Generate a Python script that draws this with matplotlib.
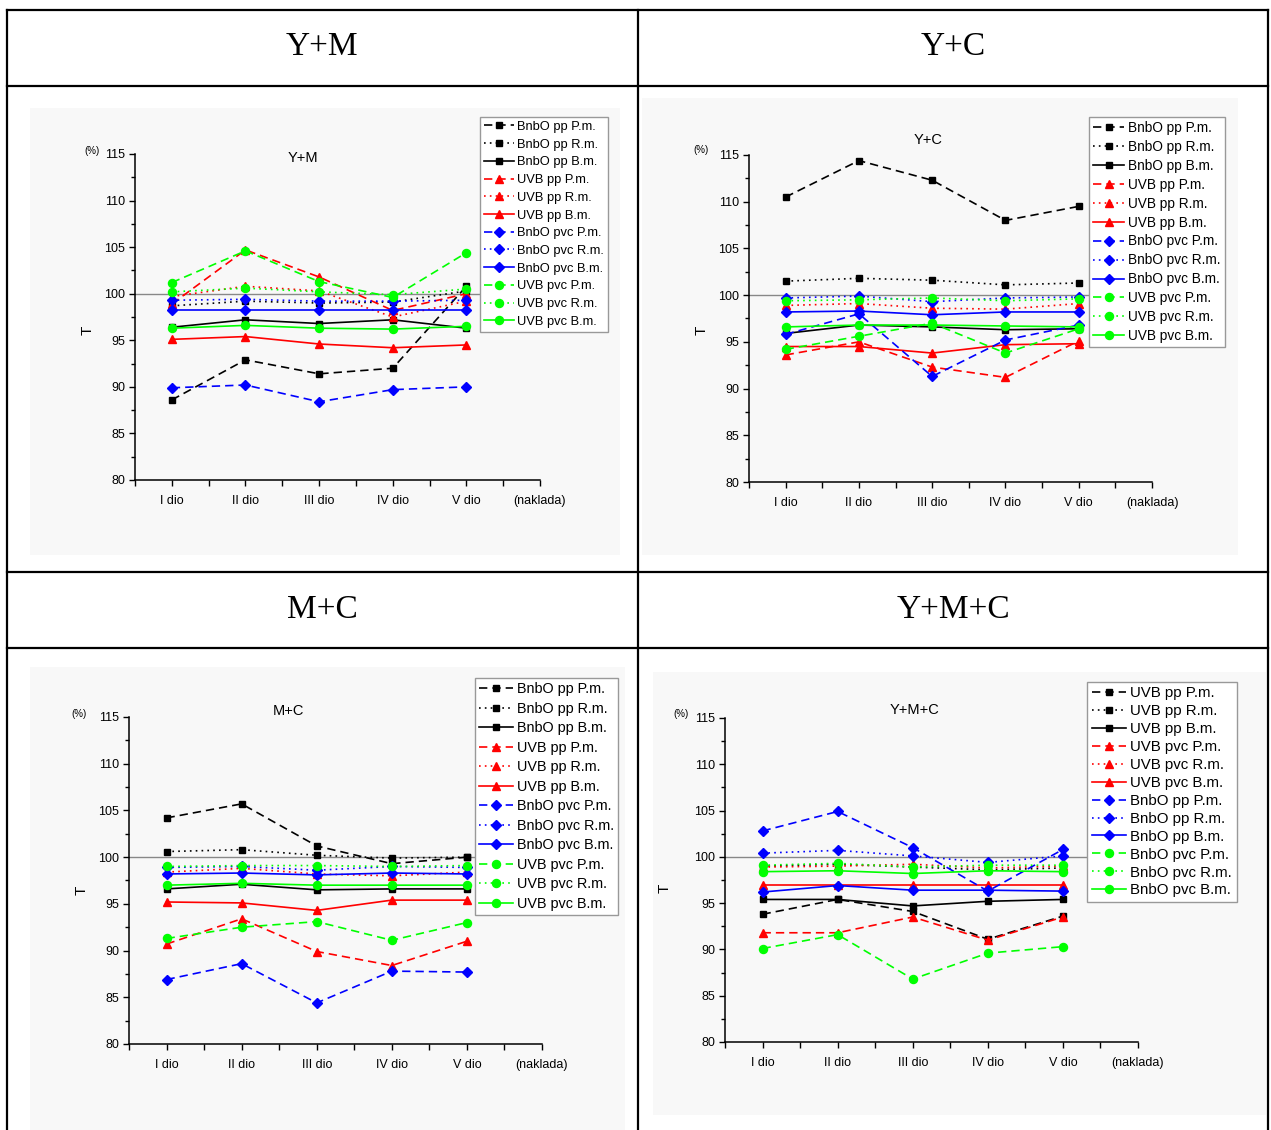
import numpy as np
import matplotlib.pyplot as plt
from matplotlib.lines import Line2D
from matplotlib.patches import Rectangle

# figure size in pixels (dpi 100)
W, H = 1271, 1130

parts = ['I dio', 'II dio', 'III dio', 'IV dio', 'V dio']
methods = ['P.m.', 'R.m.', 'B.m.']
groups_abc = ['BnbO pp', 'UVB pp', 'BnbO pvc', 'UVB pvc']
groups_d = ['UVB pp', 'UVB pvc', 'BnbO pp', 'BnbO pvc']

# T (%) per part, rows in legend order (group x method)
t_ym = [
    [88.6, 92.9, 91.4, 92.0, 100.8],
    [98.7, 99.2, 99.0, 99.1, 100.3],
    [96.4, 97.2, 96.8, 97.2, 96.3],
    [98.9, 104.7, 101.8, 98.2, 100.0],
    [99.7, 100.8, 100.3, 97.5, 99.2],
    [95.1, 95.4, 94.6, 94.2, 94.5],
    [89.9, 90.2, 88.4, 89.7, 90.0],
    [99.3, 99.4, 99.2, 99.2, 99.3],
    [98.3, 98.3, 98.3, 98.3, 98.3],
    [101.2, 104.6, 101.3, 99.6, 104.4],
    [100.2, 100.6, 100.2, 99.9, 100.5],
    [96.3, 96.6, 96.3, 96.2, 96.5],
]
t_yc = [
    [110.5, 114.4, 112.3, 108.0, 109.5],
    [101.5, 101.8, 101.6, 101.1, 101.3],
    [95.9, 96.8, 96.6, 96.3, 96.4],
    [93.6, 95.0, 92.3, 91.2, 95.1],
    [98.9, 99.1, 98.6, 98.5, 99.1],
    [94.5, 94.5, 93.8, 94.7, 94.8],
    [95.8, 98.0, 91.3, 95.2, 96.8],
    [99.7, 99.9, 99.3, 99.7, 99.8],
    [98.2, 98.3, 97.9, 98.2, 98.2],
    [94.2, 95.6, 97.0, 93.8, 96.4],
    [99.4, 99.5, 99.7, 99.4, 99.6],
    [96.6, 96.8, 96.8, 96.7, 96.6],
]
t_mc = [
    [104.2, 105.7, 101.2, 99.3, 100.0],
    [100.6, 100.8, 100.2, 99.9, 100.0],
    [96.6, 97.1, 96.5, 96.6, 96.6],
    [90.7, 93.4, 89.9, 88.4, 91.0],
    [98.4, 98.8, 98.2, 98.0, 98.4],
    [95.2, 95.1, 94.3, 95.4, 95.4],
    [86.9, 88.6, 84.4, 87.8, 87.7],
    [98.9, 99.0, 98.6, 99.0, 98.9],
    [98.2, 98.3, 98.1, 98.3, 98.2],
    [91.3, 92.5, 93.1, 91.1, 93.0],
    [99.0, 99.1, 99.1, 99.0, 99.1],
    [97.0, 97.2, 97.0, 97.0, 97.0],
]
t_ymc = [
    [93.8, 95.4, 94.1, 91.1, 93.6],
    [99.0, 99.2, 98.9, 98.6, 98.8],
    [95.4, 95.4, 94.7, 95.2, 95.4],
    [91.8, 91.8, 93.5, 91.0, 93.5],
    [98.9, 99.0, 99.2, 98.8, 99.0],
    [97.0, 97.0, 97.0, 97.0, 97.0],
    [102.8, 104.9, 101.0, 96.3, 100.8],
    [100.4, 100.7, 100.1, 99.4, 100.1],
    [96.2, 96.9, 96.4, 96.4, 96.3],
    [90.1, 91.6, 86.8, 89.6, 90.3],
    [99.1, 99.3, 98.9, 99.1, 99.1],
    [98.4, 98.5, 98.2, 98.5, 98.4],
]

colors = ['black', '#ff0000', '#0000ff', '#00ff00']
markers = ['s', '^', 'D', 'o']
msizes = [4.8, 5.8, 4.8, 5.8]
dashes = [(0, (5, 3)), (0, (1, 2.5)), '-']

plt.rcParams['font.family'] = ['Liberation Sans', 'DejaVu Sans']

fig = plt.figure(figsize=(W / 100, H / 100), dpi=100)


def fx(x):
    return x / W


def fy(y):
    return 1 - y / H


def draw_chart(box, panel, values, groups, title, title_xy, pct_xy, t_xy,
               leg_xy, leg_fs, leg_sp):
    # faint grey panel behind the plot, like the pasted picture
    px0, py0, px1, py1 = panel
    fig.add_artist(Rectangle((fx(px0), fy(py1)), fx(px1 - px0), (py1 - py0) / H,
                             facecolor='#f8f8f8', edgecolor='none', zorder=0))
    x0, y0, x1, y1 = box
    ax = fig.add_axes([fx(x0), fy(y1), fx(x1 - x0), (y1 - y0) / H])
    ax.patch.set_visible(False)
    xs = np.arange(1, len(parts) + 1)
    ax.axhline(100, color='#888888', lw=1.0, zorder=1)
    k = 0
    for gi, g in enumerate(groups):
        for mi, m in enumerate(methods):
            ax.plot(xs, values[k], color=colors[gi], ls=dashes[mi], lw=1.2,
                    marker=markers[gi], ms=msizes[gi], label=f'{g} {m}',
                    zorder=3)
            k += 1
    ax.set_xlim(0.5, 6)
    ax.set_ylim(80, 115)
    ax.set_xticks(list(xs) + [6])
    ax.set_xticklabels(parts + ['(naklada)'])
    ax.get_xticklabels()[-1].set_fontsize(7.5)
    ax.set_xticks(np.arange(0.5, 6.01, 0.5), minor=True)
    ax.set_yticks(np.arange(80, 116, 5))
    ax.set_yticks(np.arange(82.5, 115, 5), minor=True)
    ax.tick_params(which='both', direction='out', length=4, width=1,
                   labelsize=9, pad=3)
    ax.tick_params(axis='x', which='major', pad=7)
    ax.tick_params(axis='y', which='minor', length=3)
    for s in ['top', 'right']:
        ax.spines[s].set_visible(False)
    for s in ['left', 'bottom']:
        ax.spines[s].set_linewidth(1.1)
    fig.text(fx(title_xy[0]), fy(title_xy[1]), title, ha='center',
             va='center', fontsize=10.5)
    fig.text(fx(pct_xy[0]), fy(pct_xy[1]), '(%)', ha='center', va='center',
             fontsize=7)
    fig.text(fx(t_xy[0]), fy(t_xy[1]), 'T', ha='center', va='center',
             fontsize=11, rotation=90)
    leg = ax.legend(loc='upper left', bbox_to_anchor=(fx(leg_xy[0]), fy(leg_xy[1])),
                    bbox_transform=fig.transFigure, borderaxespad=0,
                    fontsize=leg_fs, handlelength=2.3, handletextpad=0.3,
                    labelspacing=leg_sp, borderpad=0.3, fancybox=False,
                    framealpha=1, edgecolor='#999999', facecolor='white')
    leg.get_frame().set_linewidth(1.0)
    leg.set_zorder(5)
    return ax


draw_chart((135, 154, 540, 480), (30, 108, 620, 555), t_ym, groups_abc, 'Y+M',
           (303, 158), (92, 151), (88, 330), (480, 117), 9.3, 0.44)
draw_chart((749, 155, 1152, 482), (642, 98, 1238, 555), t_yc, groups_abc, 'Y+C',
           (928, 140), (701, 150), (702, 330), (1089, 117), 9.8, 0.36)
draw_chart((129, 717, 542, 1044), (30, 667, 625, 1130), t_mc, groups_abc, 'M+C',
           (288, 711), (79, 714), (82, 890), (475, 678), 10.4, 0.38)
draw_chart((725, 718, 1138, 1042), (653, 672, 1266, 1115), t_ymc, groups_d, 'Y+M+C',
           (915, 710), (681, 714), (665, 888), (1087, 682), 10.8, 0.26)

# table grid around the four charts
lw = 1.6
for (xa, ya, xb, yb) in [(7, 10, 1268, 10), (7, 86, 1268, 86),
                         (7, 572, 1268, 572), (7, 648, 1268, 648),
                         (7, 10, 7, 1130), (638, 10, 638, 1130),
                         (1268, 10, 1268, 1130)]:
    fig.add_artist(Line2D([fx(xa), fx(xb)], [fy(ya), fy(yb)], color='black',
                          lw=lw, zorder=10))

for label, (cx, cy) in [('Y+M', (322, 47)), ('Y+C', (953, 47)),
                        ('M+C', (322, 610)), ('Y+M+C', (953, 610))]:
    fig.text(fx(cx), fy(cy), label, ha='center', va='center', fontsize=24,
             family=['Liberation Serif', 'DejaVu Serif'])

fig.savefig('out.png', dpi=100)
